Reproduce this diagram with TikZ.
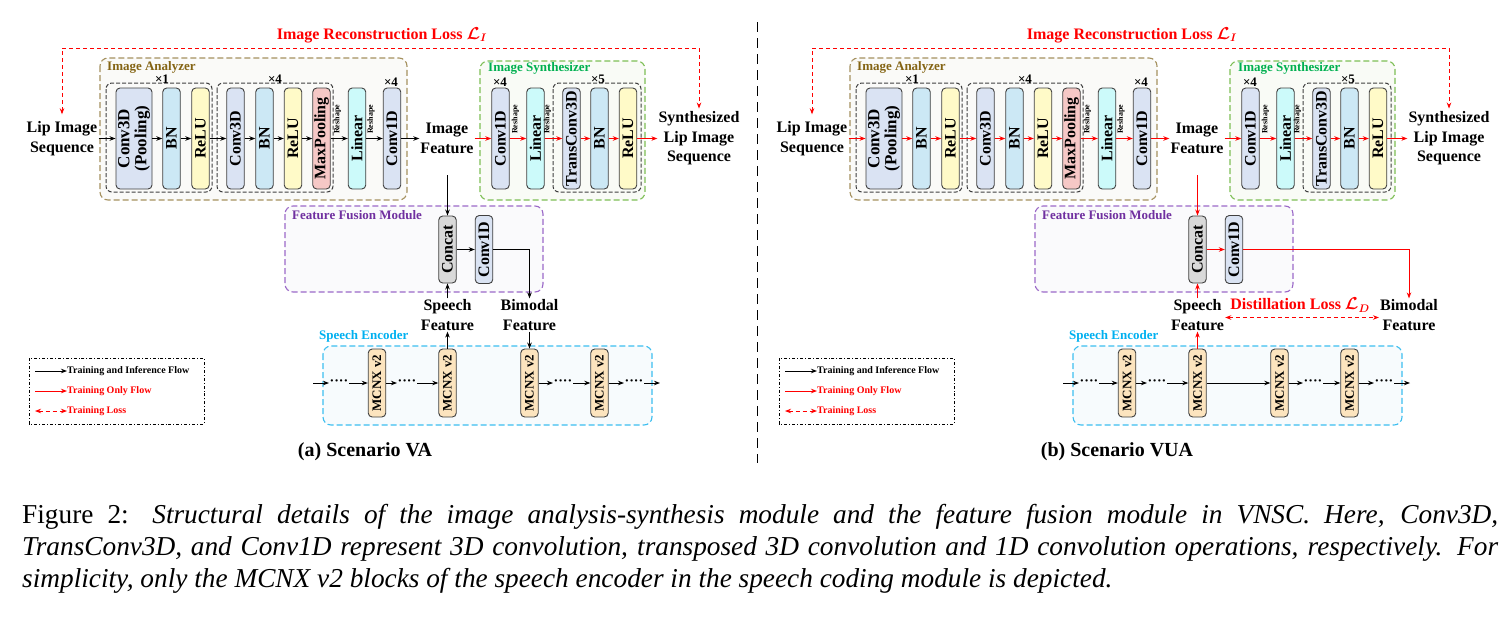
\documentclass[tikz,border=0pt]{standalone}
\usepackage{amsmath}
\usepackage{fontspec}
\setmainfont{Liberation Serif}
\usetikzlibrary{arrows.meta}
\tikzset{>={Stealth[length=6pt,width=4.5pt]}}
\definecolor{anaC}{RGB}{132,100,20}
\definecolor{anaB}{RGB}{165,145,95}
\definecolor{anaF}{RGB}{250,250,248}
\definecolor{synC}{RGB}{0,176,80}
\definecolor{synB}{RGB}{125,190,85}
\definecolor{synF}{RGB}{249,251,246}
\definecolor{fusC}{RGB}{112,48,160}
\definecolor{fusB}{RGB}{155,105,200}
\definecolor{fusF}{RGB}{250,250,252}
\definecolor{encC}{RGB}{0,176,240}
\definecolor{encB}{RGB}{60,190,240}
\definecolor{encF}{RGB}{247,251,253}
\definecolor{blkline}{RGB}{64,64,64}
\definecolor{c3C}{RGB}{218,227,243}
\definecolor{bnC}{RGB}{204,232,245}
\definecolor{reluC}{RGB}{255,250,200}
\definecolor{mpC}{RGB}{246,200,198}
\definecolor{linC}{RGB}{204,250,250}
\definecolor{catC}{RGB}{217,217,217}
\definecolor{mcC}{RGB}{252,228,190}
\tikzset{
    blk/.style={draw=blkline,line width=0.9pt,rounded corners=4pt,rotate=90,inner sep=0pt,
        minimum width=101pt,minimum height=17.5pt,align=center,font=\bfseries\fontsize{16}{17}\selectfont},
    mcnx/.style={blk,fill=mcC,minimum width=68pt,font=\bfseries\fontsize{13}{13}\selectfont},
    lbl/.style={align=center,inner sep=1pt,font=\bfseries\fontsize{16}{19.5}\selectfont},
    grplbl/.style={anchor=west,inner sep=0pt,font=\bfseries\fontsize{13}{13}\selectfont},
    rep/.style={anchor=south,inner sep=0.5pt,font=\bfseries\fontsize{13}{13}\selectfont},
    rsh/.style={rotate=90,anchor=west,inner sep=0pt,font=\bfseries\fontsize{8}{8}\selectfont},
    grp/.style={line width=1.1pt,rounded corners=8pt,dash pattern=on 6pt off 3pt},
    rpt/.style={draw=black!75,line width=1pt,rounded corners=6pt,dash pattern=on 4pt off 2pt},
    flow/.style={->,line width=0.9pt},
    encflow/.style={->,line width=0.9pt,black},
    train/.style={->,line width=0.9pt,red},
    loss/.style={<->,line width=0.9pt,red,dash pattern=on 4pt off 3pt},
    skipdots/.style={inner sep=0.5pt,font=\bfseries\fontsize{14}{14}\selectfont},
    legtxt/.style={anchor=west,inner sep=0pt,font=\bfseries\fontsize{10}{10}\selectfont},
    scen/.style={font=\bfseries\fontsize{20}{20}\selectfont},
    captxt/.style={anchor=base west,inner sep=0pt,font=\fontsize{27.3}{32}\selectfont},
}
% one panel: analyzer, synthesizer, fusion, encoder, legend
\newcommand{\panelbody}{%
    \draw[grp,draw=anaB,fill=anaF] (100,58) rectangle (407,200);
    \draw[grp,draw=synB,fill=synF] (480,61) rectangle (645,200);
    \draw[grp,draw=fusB,fill=fusF] (285,206) rectangle (543,292);
    \draw[grp,draw=encB,fill=encF] (323,346) rectangle (652,425);
    \draw[rpt] (106,83) rectangle (212,192);
    \draw[rpt] (217,83) rectangle (333,192);
    \draw[rpt] (553,83) rectangle (641,192);
    \node[grplbl,text=anaC] (analyzer) at (107,67) {Image Analyzer};
    \node[grplbl,text=synC] (synth) at (488,68) {Image Synthesizer};
    \node[grplbl,text=fusC] (fusion) at (292,215) {Feature Fusion Module};
    \node[grplbl,text=encC] (encoder) at (319,336) {Speech Encoder};
    \node[rep] at (162,84) {×1};
    \node[rep] at (275,84) {×4};
    \node[rep] at (391,87) {×4};
    \node[rep] at (500,87) {×4};
    \node[rep] at (598,84) {×5};
    % analyzer
    \node[lbl] (lipin) at (62,138.5) {Lip Image\\Sequence};
    \node[blk,fill=c3C,minimum height=36pt,font=\bfseries\fontsize{17}{17}\selectfont] (c3p) at (134,138.5) {Conv3D\\(Pooling)};
    \node[blk,fill=bnC] (bn1) at (171.5,138.5) {BN};
    \node[blk,fill=reluC] (relu1) at (200.5,138.5) {ReLU};
    \node[blk,fill=c3C] (c3) at (235.5,138.5) {Conv3D};
    \node[blk,fill=bnC] (bn2) at (264.5,138.5) {BN};
    \node[blk,fill=reluC] (relu2) at (293,138.5) {ReLU};
    \node[blk,fill=mpC] (mpool) at (321.5,138.5) {MaxPooling};
    \node[blk,fill=linC] (lin1) at (357,138.5) {Linear};
    \node[blk,fill=c3C] (c1a) at (392,138.5) {Conv1D};
    \node[rsh] (rs1) at (337.5,134) {Reshape};
    \node[rsh] (rs2) at (371,134) {Reshape};
    \node[lbl] (imgfeat) at (447,138.5) {Image\\Feature};
    \draw[flow] (lipin) -- (c3p);
    \draw[flow] (c3p) -- (bn1);
    \draw[flow] (bn1) -- (relu1);
    \draw[flow] (relu1) -- (c3);
    \draw[flow] (c3) -- (bn2);
    \draw[flow] (bn2) -- (relu2);
    \draw[flow] (relu2) -- (mpool);
    \draw[flow] (mpool) -- (lin1);
    \draw[flow] (lin1) -- (c1a);
    \draw[flow] (c1a) -- (imgfeat);
    % synthesizer
    \node[blk,fill=c3C] (c1s) at (500.5,138.5) {Conv1D};
    \node[blk,fill=linC] (lin2) at (535.5,138.5) {Linear};
    \node[blk,fill=c3C] (tc3) at (571.5,138.5) {TransConv3D};
    \node[blk,fill=bnC] (bn3) at (599.5,138.5) {BN};
    \node[blk,fill=reluC] (relu3) at (628,138.5) {ReLU};
    \node[rsh] (rs3) at (515.5,134) {Reshape};
    \node[rsh] (rs4) at (547.5,134) {Reshape};
    \node[lbl] (synthout) at (699,138.5) {Synthesized\\Lip Image\\Sequence};
    \draw[train] (imgfeat) -- (c1s);
    \draw[train] (c1s) -- (lin2);
    \draw[train] (lin2) -- (tc3);
    \draw[train] (tc3) -- (bn3);
    \draw[train] (bn3) -- (relu3);
    \draw[train] (relu3) -- (synthout);
    % reconstruction loss
    \node[text=red,font=\bfseries\boldmath\fontsize{16}{16}\selectfont] (losstitle) at (382,35) {Image Reconstruction Loss $\mathcal{L}_I$};
    \coordinate (losstop) at (382,48);
    \draw[loss] ([yshift=6pt]lipin.north) |- (losstop) -| ([yshift=2pt]synthout.north);
    % fusion
    \coordinate (imgtap) at (447.5,175);
    \node[blk,fill=catC,minimum width=67pt] (concat) at (447.5,249.5) {Concat};
    \node[blk,fill=c3C,minimum width=68pt] (conv1f) at (484,249.5) {Conv1D};
    \node[lbl] (speechfeat) at (447.5,315) {Speech\\Feature};
    \draw[flow] (imgtap) -- (concat);
    \draw[flow] (concat) -- (conv1f);
    \draw[flow] (speechfeat) -- (concat);
    % speech encoder
    \coordinate (encin) at (313,383);
    \coordinate (encout) at (660,383);
    \node[mcnx] (mcnx1) at (377,383) {MCNX v2};
    \node[mcnx] (mcnx2) at (447.5,383) {MCNX v2};
    \node[mcnx] (mcnx3) at (529.5,383) {MCNX v2};
    \node[mcnx] (mcnx4) at (599.5,383) {MCNX v2};
    \node[skipdots] (d1) at (339,383) {····};
    \node[skipdots] (d2) at (407,383) {····};
    \node[skipdots] (d3) at (563,383) {····};
    \node[skipdots] (d4) at (634,383) {····};
    \draw[encflow] (encin) -- (d1);
    \draw[encflow] (d1) -- (mcnx1);
    \draw[encflow] (mcnx1) -- (d2);
    \draw[encflow] (d2) -- (mcnx2);
    \draw[encflow] (mcnx3) -- (d3);
    \draw[encflow] (d3) -- (mcnx4);
    \draw[encflow] (mcnx4) -- (d4);
    \draw[encflow] (d4) -- (encout);
    \draw[flow] (mcnx2) -- (speechfeat);
    % legend
    \draw[line width=0.9pt,dash dot] (29,358) rectangle (204,424);
    \node[legtxt] (leg1) at (67,371) {Training and Inference Flow};
    \node[legtxt,text=red] (leg2) at (67,391) {Training Only Flow};
    \node[legtxt,text=red] (leg3) at (67,411) {Training Loss};
    \coordinate (lg1) at (35,371);
    \coordinate (lg2) at (35,391);
    \coordinate (lg3) at (35,411);
    \draw[encflow] (lg1) -- (leg1);
    \draw[train] (lg2) -- (leg2);
    \draw[loss] (lg3) -- (leg3);
}

\begin{document}
\begin{tikzpicture}[x=1pt,y=-1pt]
    \useasboundingbox (0,0) rectangle (1512,638);

    % (a) scenario VA
    \begin{scope}[name prefix=a-,flow/.style={->,line width=0.9pt,black}]
        \panelbody
        \node[lbl] (bimod) at (529.5,315) {Bimodal\\Feature};
        \draw[flow] (conv1f) -| (bimod);
        \draw[flow] (bimod) -- (mcnx3);
        \node[scen] (scena) at (365,452) {(a) Scenario VA};
    \end{scope}

    % (b) scenario VUA
    \begin{scope}[xshift=750pt,name prefix=b-,flow/.style={->,line width=0.9pt,red}]
        \panelbody
        \node[lbl] (bimod) at (659,315) {Bimodal\\Feature};
        \draw[flow] (conv1f) -| (bimod);
        \draw[encflow] (mcnx2) -- (mcnx3);
        \node[text=red,font=\bfseries\boldmath\fontsize{16}{16}\selectfont] (distlbl) at (550,305) {Distillation Loss $\mathcal{L}_D$};
        \draw[loss] ([yshift=-2.5pt]speechfeat.east) -- ([yshift=-2.5pt]bimod.west);
        \node[scen] (scenb) at (367,452) {(b) Scenario VUA};
    \end{scope}

    \coordinate (sepT) at (757,22);
    \coordinate (sepB) at (757,463);
    \draw[line width=1pt,dash pattern=on 10pt off 6pt] (sepT) -- (sepB);

    % caption
    \node[captxt] (cap1) at (22,523)
        {\makebox[1476pt][s]{Figure 2: \textit{Structural details of the image analysis-synthesis module and the feature fusion module in VNSC. Here, Conv3D,}}};
    \node[captxt] (cap2) at (22,555)
        {\makebox[1476pt][s]{\textit{TransConv3D, and Conv1D represent 3D convolution, transposed 3D convolution and 1D convolution operations, respectively. For}}};
    \node[captxt] (cap3) at (22,587)
        {\textit{simplicity, only the MCNX v2 blocks of the speech encoder in the speech coding module is depicted.}};
\end{tikzpicture}
\end{document}
